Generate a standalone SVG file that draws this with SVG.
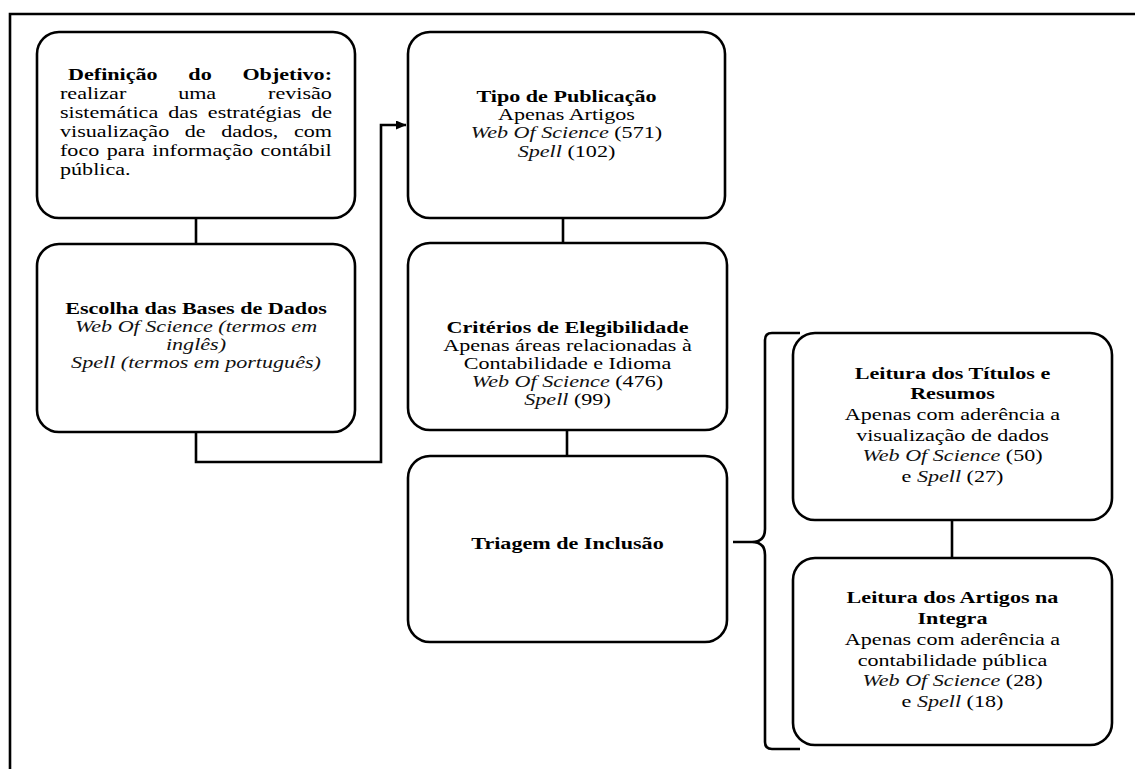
<svg xmlns="http://www.w3.org/2000/svg" width="1135" height="769" viewBox="0 0 1135 769">
<style>
.bg{fill:#fff}
.box{fill:#fff;stroke:#000;stroke-width:2.6}
.ln{fill:none;stroke:#000;stroke-width:2.6}
.t{font-family:"Liberation Serif","Times New Roman",serif;font-size:16.5px;fill:#000}
.c{text-anchor:middle}
.b{font-weight:bold}
.i{font-style:italic;fill:#111}
</style>
<defs>
<marker id="arr" markerWidth="11" markerHeight="9" refX="10" refY="4.5" orient="auto" markerUnits="userSpaceOnUse">
<path d="M0,0 L10.5,4.5 L0,9 Z" fill="#000"/>
</marker>
</defs>
<rect class="bg" x="0" y="0" width="1135" height="769"/>
<path class="ln" d="M10,769 V14 H1135" stroke-width="3"/>

<g id="connectors">
<line class="ln" x1="196" y1="218" x2="196" y2="244"/>
<path class="ln" d="M196,432 V462 H381 V125 H406" marker-end="url(#arr)"/>
<line class="ln" x1="563" y1="218" x2="563" y2="243"/>
<line class="ln" x1="567" y1="430" x2="567" y2="456"/>
<line class="ln" x1="952" y1="520" x2="952" y2="558"/>
<path class="ln" d="M733,542 H752 Q765,542 765,529 V340 Q765,333 772,333 H800 M752,542 Q765,542 765,555 V742 Q765,749 772,749 H800"/>
</g>

<g id="n_definicao">
<rect class="box" x="37" y="32" width="318" height="186" rx="22"/>
<g transform="translate(60,0) scale(1.34,1)">
<text class="t b" x="6" y="80" word-spacing="18.8">Definição do Objetivo:</text>
<text class="t" x="0" y="99" word-spacing="34.6">realizar uma revisão</text>
<text class="t" x="0" y="118" word-spacing="3.4">sistemática das estratégias de</text>
<text class="t" x="0" y="137" word-spacing="7.5">visualização de dados, com</text>
<text class="t" x="0" y="156" word-spacing="1.5">foco para informação contábil</text>
<text class="t" x="0" y="175">pública.</text>
</g>
</g>

<g id="n_escolha">
<rect class="box" x="37" y="244" width="318" height="188" rx="22"/>
<g transform="translate(196,0) scale(1.34,1)">
<text class="t c b" x="0" y="314">Escolha das Bases de Dados</text>
<text class="t c i" x="0" y="332">Web Of Science (termos em</text>
<text class="t c i" x="0" y="350">inglês)</text>
<text class="t c i" x="0" y="368">Spell (termos em português)</text>
</g>
</g>

<g id="n_tipo">
<rect class="box" x="408" y="32" width="317" height="186" rx="22"/>
<g transform="translate(566.5,0) scale(1.34,1)">
<text class="t c b" x="0" y="102">Tipo de Publicação</text>
<text class="t c" x="0" y="120">Apenas Artigos</text>
<text class="t c" x="0" y="138"><tspan class="i">Web Of Science</tspan> (571)</text>
<text class="t c" x="0" y="157"><tspan class="i">Spell</tspan> (102)</text>
</g>
</g>

<g id="n_criterios">
<rect class="box" x="408" y="243" width="319" height="187" rx="22"/>
<g transform="translate(567.5,0) scale(1.34,1)">
<text class="t c b" x="0" y="333">Critérios de Elegibilidade</text>
<text class="t c" x="0" y="351">Apenas áreas relacionadas à</text>
<text class="t c" x="0" y="369">Contabilidade e Idioma</text>
<text class="t c" x="0" y="387"><tspan class="i">Web Of Science</tspan> (476)</text>
<text class="t c" x="0" y="405"><tspan class="i">Spell</tspan> (99)</text>
</g>
</g>

<g id="n_triagem">
<rect class="box" x="408" y="456" width="319" height="186" rx="22"/>
<g transform="translate(567.5,0) scale(1.34,1)">
<text class="t c b" x="0" y="549">Triagem de Inclusão</text>
</g>
</g>

<g id="n_titulos">
<rect class="box" x="793" y="333" width="319" height="187" rx="22"/>
<g transform="translate(952.5,0) scale(1.34,1)">
<text class="t c b" x="0" y="379">Leitura dos Títulos e</text>
<text class="t c b" x="0" y="399">Resumos</text>
<text class="t c" x="0" y="420">Apenas com aderência a</text>
<text class="t c" x="0" y="441">visualização de dados</text>
<text class="t c" x="0" y="461"><tspan class="i">Web Of Science</tspan> (50)</text>
<text class="t c" x="0" y="482">e <tspan class="i">Spell</tspan> (27)</text>
</g>
</g>

<g id="n_artigos">
<rect class="box" x="793" y="558" width="319" height="187" rx="22"/>
<g transform="translate(952.5,0) scale(1.34,1)">
<text class="t c b" x="0" y="603">Leitura dos Artigos na</text>
<text class="t c b" x="0" y="624">Integra</text>
<text class="t c" x="0" y="645">Apenas com aderência a</text>
<text class="t c" x="0" y="666">contabilidade pública</text>
<text class="t c" x="0" y="686"><tspan class="i">Web Of Science</tspan> (28)</text>
<text class="t c" x="0" y="707">e <tspan class="i">Spell</tspan> (18)</text>
</g>
</g>
</svg>
